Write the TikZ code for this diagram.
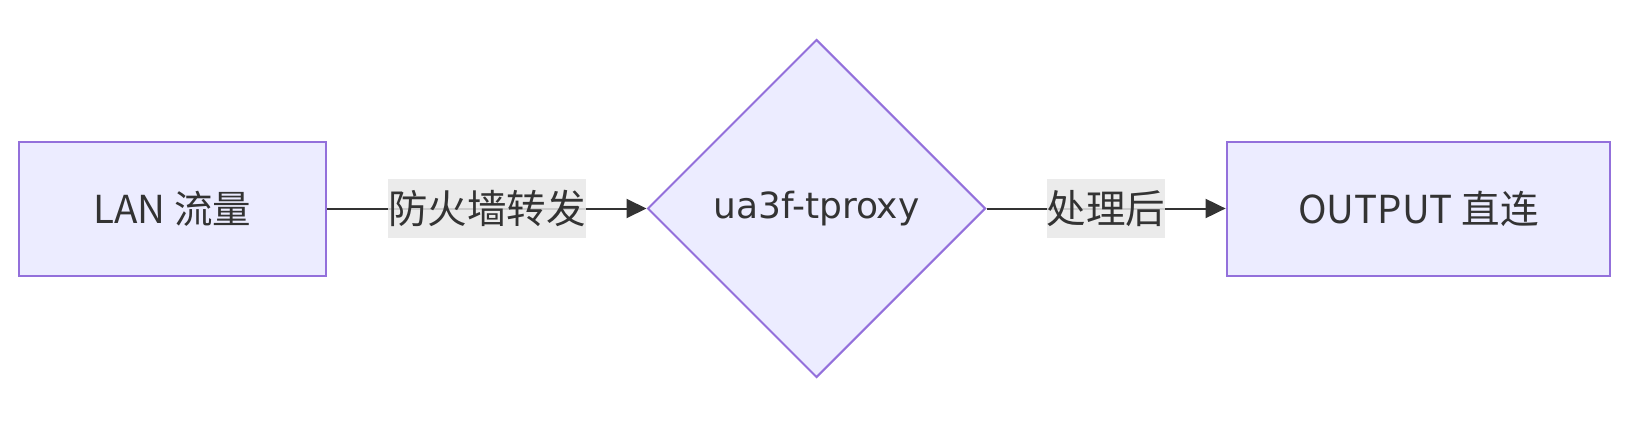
\documentclass[tikz,border=0pt]{standalone}
\usepackage{fontspec}
\setmainfont{DejaVu Sans}
\newfontfamily\cjk{Noto Sans CJK SC}
\usetikzlibrary{shapes.geometric,arrows.meta}
\definecolor{nodefill}{HTML}{ECECFF}
\definecolor{nodeline}{HTML}{9370DB}
\definecolor{ink}{HTML}{333333}
\definecolor{lblbg}{HTML}{E8E8E8}
\tikzset{
  boxnode/.style={draw=nodeline, fill=nodefill, line width=2pt, rectangle, inner sep=0pt, minimum height=134pt, text=ink, font=\cjk\fontsize{38.5}{42}\selectfont},
  decnode/.style={draw=nodeline, fill=nodefill, line width=2pt, diamond, aspect=1, inner sep=0pt, minimum width=338pt, minimum height=338pt, text=ink, font=\fontsize{36}{40}\selectfont},
  flow/.style={draw=ink, line width=2pt, -{Triangle[length=20pt,width=19pt]}},
  edgelbl/.style={fill=lblbg, fill opacity=0.85, text opacity=1, text=ink, inner xsep=0pt, inner ysep=0pt, minimum height=59pt, font=\cjk\fontsize{39.5}{42}\selectfont}
}
\begin{document}
\begin{tikzpicture}[x=1pt,y=1pt]
\useasboundingbox (0,0) rectangle (1630,-423);
\node[boxnode, minimum width=307.7pt] (a) at (172.5,-208.5) {LAN 流量};
\node[decnode] (b) at (816.5,-208.5) {ua3f-tproxy};
\node[boxnode, minimum width=383.6pt] (c) at (1418.4,-208.5) {OUTPUT 直连};
\draw[flow] (a.east) -- node[edgelbl] (l1) {防火墙转发} (b.west);
\draw[flow] (b.east) -- node[edgelbl] (l2) {处理后} (c.west);
\end{tikzpicture}
\end{document}
